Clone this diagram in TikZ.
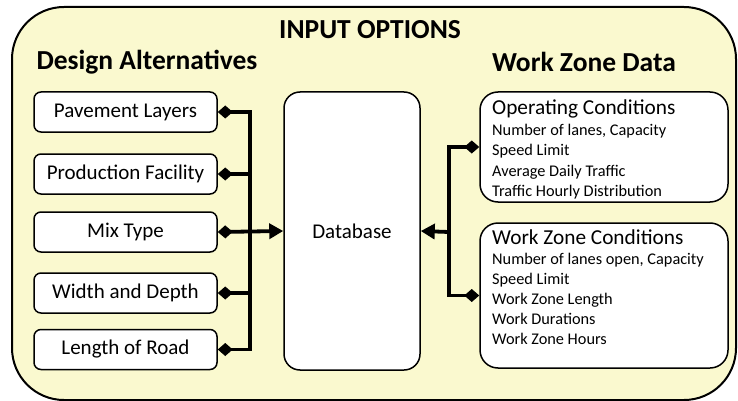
\documentclass[tikz,border=0pt]{standalone}
\usepackage{fontspec}
\setmainfont{Carlito}
\usetikzlibrary{arrows.meta}
\definecolor{panel}{RGB}{250,249,207}
\tikzset{
  heading/.style={font=\bfseries\fontsize{27.5}{30}\selectfont,inner sep=0pt},
  option/.style={draw,rounded corners=7pt,line width=1.5pt,fill=white,
    minimum width=183pt,minimum height=40pt,font=\fontsize{21}{22}\selectfont},
  infobox/.style={draw,rounded corners=18pt,line width=1.5pt,fill=white,minimum width=248pt},
  infotext/.style={anchor=north west,align=left,inner sep=0pt,font=\fontsize{16.3}{20.5}\selectfont},
  bus/.style={line width=3.8pt},
  link/.style={bus,{Diamond[length=15pt,width=13pt]}-},
  feed/.style={bus,-{Triangle[length=14pt,width=15pt]}}
}
\begin{document}
\begin{tikzpicture}[x=1pt,y=-1pt]
\useasboundingbox (0,0) rectangle (738,401);
% outer panel
\draw[line width=2pt,fill=panel,rounded corners=52pt] (12,7) rectangle (736,400);
\node[heading] (title) at (370,30) {INPUT OPTIONS};
\node[heading] (da) at (147,62) {Design Alternatives};
\node[heading] (wzd) at (584,62) {Work Zone Data};
% design alternatives
\node[option] (pl) at (125.5,112) {Pavement Layers};
\node[option] (pf) at (125.5,174) {Production Facility};
\node[option] (mt) at (125.5,232) {Mix Type};
\node[option] (wd) at (125.5,293) {Width and Depth};
\node[option] (lr) at (125.5,349.5) {Length of Road};
% database
\node[draw,rounded corners=16pt,line width=1.5pt,fill=white,minimum width=136pt,minimum height=278pt,
  font=\fontsize{21}{22}\selectfont] (db) at (352,231) {Database};
% work zone data
\node[infobox,minimum height=110pt] (oc) at (604,147) {};
\node[infotext] (octext) at (492,100) {{\fontsize{21.3}{20.5}\selectfont Operating Conditions}\\
  Number of lanes, Capacity\\ Speed Limit\\ Average Daily Traffic\\ Traffic Hourly Distribution};
\node[infobox,minimum height=145pt] (wzc) at (604,295.5) {};
\node[infotext,font=\fontsize{16.3}{20}\selectfont] (wzctext) at (492,230) {{\fontsize{21.3}{20}\selectfont Work Zone Conditions}\\
  Number of lanes open, Capacity\\ Speed Limit\\ Work Zone Length\\ Work Durations\\ Work Zone Hours};
% buses
\coordinate (lbus) at (250,232);
\coordinate (rbus) at (449,232);
\draw[link] (pl.east) -| (lbus);
\draw[link] (pf.east) -| (lbus);
\draw[link] (wd.east) -| (lbus);
\draw[link] (lr.east) -| (lbus);
\draw[bus,{Diamond[length=15pt,width=13pt]}-{Triangle[length=14pt,width=15pt]}] (mt.east) -- (db.west);
\draw[link] (oc.west) -| (rbus);
\draw[link] (wzc.west) -| (rbus);
\draw[feed] (rbus) -- (db.east);
\end{tikzpicture}
\end{document}
